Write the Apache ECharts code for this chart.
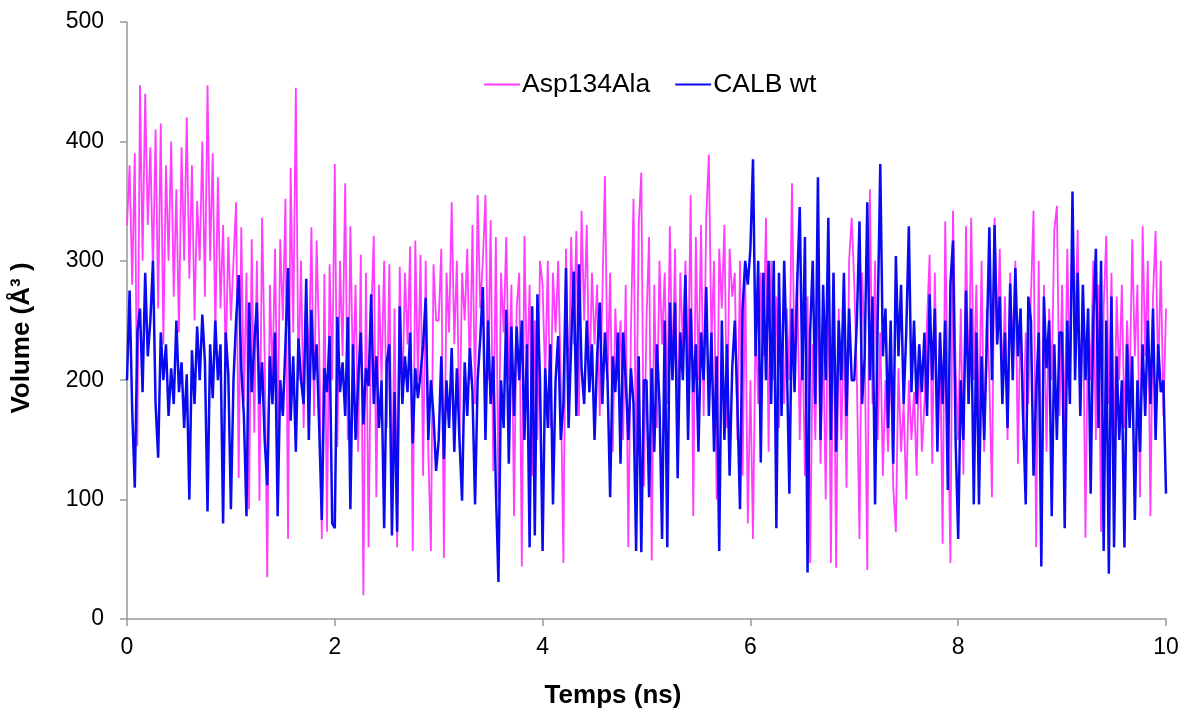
<!DOCTYPE html>
<html>
<head>
<meta charset="utf-8">
<script src="https://cdn.jsdelivr.net/npm/echarts@6/dist/echarts.min.js"></script>
<style>
  html, body { margin: 0; padding: 0; background: #fff; }
  #graph { width: 1183px; height: 712px; }
</style>
</head>
<body>
<div id="graph"></div>
<script>
// sampling step of the trajectory (ns)
var timeStep = 0.025;
var xTicks = [0, 2, 4, 6, 8, 10];
var yTicks = [0, 100, 200, 300, 400, 500];
var seriesNames = ['Asp134Ala', 'CALB wt'];

// Volume (Å3), one value every 0.025 ns
var asp134Ala = [
  330,380,280,390,145,447,300,440,330,395, 290,410,260,415,230,380,300,400,270,360,
  240,395,300,420,285,380,250,350,300,400, 270,447,300,390,240,370,260,330,215,320,
  250,300,349,118,328,182,290,92,318,156, 300,99,336,220,35,280,200,310,150,318,
  250,352,67,378,240,445,200,300,160,270, 210,328,170,317,230,67,289,73,297,200,
  381,144,300,220,365,150,329,200,280,140, 305,20,290,60,250,321,102,280,200,300,
  160,297,89,260,60,295,180,290,230,312, 57,317,200,305,120,300,140,57,297,250,
  250,310,51,290,240,349,230,300,150,290, 250,310,200,330,180,355,260,300,355,200,
  334,124,320,100,290,240,320,200,280,86, 260,290,44,321,200,280,120,250,150,300,
  280,200,300,160,290,240,300,200,47,310, 180,320,230,325,170,342,250,330,190,290,
  230,280,170,270,371,200,290,140,260,200, 250,150,280,60,240,352,120,330,374,111,
  250,320,49,280,160,300,230,290,180,329, 200,310,150,290,230,300,200,355,86,320,
  200,330,170,337,389,230,300,100,310,260, 330,160,310,270,290,150,300,120,290,80,
  200,67,250,180,290,220,336,140,300,200, 270,160,230,180,260,200,365,210,290,150,
  250,120,270,47,230,150,290,130,240,100, 300,47,290,43,260,150,250,110,300,336,
  280,200,67,290,230,41,360,180,300,150, 240,120,200,140,220,110,73,210,140,180,
  100,200,150,190,120,230,140,180,250,305, 130,290,160,240,63,333,180,47,342,210,
  150,260,121,329,180,336,200,280,160,300, 140,260,200,102,336,230,310,190,270,150,
  290,220,300,130,260,150,240,180,270,342, 60,300,51,280,140,260,200,326,346,170,
  280,150,310,200,330,240,326,170,280,68, 260,200,300,150,280,73,260,321,180,290,
  140,270,200,280,160,250,190,318,220,280, 102,329,220,300,86,270,325,200,300,170,
  260
];

var calbWt = [
  200,275,175,110,240,260,190,290,220,250, 300,180,135,240,200,230,170,210,180,250,
  190,215,160,205,100,225,180,245,200,255, 215,90,230,185,250,200,230,80,240,205,
  92,200,250,288,210,170,86,265,190,230, 265,180,215,150,112,220,180,240,86,200,
  170,230,294,166,220,140,235,200,180,285, 150,259,200,230,160,83,210,190,237,80,
  76,253,190,215,170,253,92,230,150,200, 240,163,210,195,272,180,220,160,200,76,
  215,230,70,190,73,262,180,220,190,240, 147,210,185,205,230,269,150,200,170,124,
  150,220,134,200,160,227,140,210,150,99, 215,170,227,190,96,200,235,278,150,250,
  180,220,110,31,200,160,259,130,245,170, 245,200,250,150,230,60,262,70,272,200,
  57,210,160,230,96,200,237,150,180,294, 160,230,291,170,297,210,180,250,190,230,
  150,220,265,180,240,200,102,220,190,240, 130,240,200,150,210,180,57,220,56,200,
  200,102,210,140,230,180,67,250,60,265, 200,265,118,240,200,288,150,260,190,230,
  140,240,200,278,170,240,140,220,57,250, 150,230,120,210,250,180,92,260,300,280,
  310,385,220,300,131,290,200,300,180,300, 76,290,170,300,220,105,260,190,280,345,
  200,320,39,240,300,180,370,150,280,200, 336,150,290,140,250,200,290,170,260,200,
  200,250,333,180,220,349,200,270,96,250, 381,220,260,160,250,130,304,220,280,180,
  240,329,190,250,180,230,190,240,170,272, 200,260,140,240,180,250,108,280,317,150,
  67,200,150,275,180,260,96,240,96,220, 150,230,328,200,330,230,270,180,240,160,
  281,200,294,220,260,170,96,270,250,120, 190,240,44,270,210,250,86,230,150,240,
  240,76,250,180,358,200,290,170,280,200, 260,105,250,310,160,300,57,250,38,270,
  60,220,150,200,60,230,160,220,83,200, 140,230,170,250,180,260,150,230,190,200,
  105
];

function toPairs(values) {
  return values.map(function (v, i) {
    return [+(i * timeStep).toFixed(3), v];
  });
}

var chartDom = document.getElementById('graph');
var myChart = echarts.init(chartDom);
var option;

var font = 'Arial, "Liberation Sans", sans-serif';

option = {
  animation: false,
  backgroundColor: '#ffffff',
  grid: {
    left: 127,
    right: 17,
    top: 22,
    bottom: 93
  },
  legend: {
    data: seriesNames,
    left: 479,
    top: 66,
    icon: 'rect',
    itemWidth: 36,
    itemHeight: 2,
    itemGap: 25,
    textStyle: {
      fontFamily: font,
      fontSize: 26.5,
      color: '#000',
      padding: [0, 0, 0, -3]
    }
  },
  xAxis: {
    type: 'value',
    min: xTicks[0],
    max: xTicks[xTicks.length - 1],
    interval: 2,
    axisLine: { show: true, lineStyle: { color: '#999', width: 1.5 } },
    axisTick: { show: true, length: 7, lineStyle: { color: '#999', width: 1.5 } },
    splitLine: { show: false },
    axisLabel: {
      margin: 17,
      fontFamily: font,
      fontSize: 23,
      color: '#000'
    }
  },
  yAxis: {
    type: 'value',
    min: yTicks[0],
    max: yTicks[yTicks.length - 1],
    interval: 100,
    axisLine: { show: true, lineStyle: { color: '#999', width: 1.5 } },
    axisTick: { show: true, length: 7, lineStyle: { color: '#999', width: 1.5 } },
    splitLine: { show: false },
    axisLabel: {
      margin: 23,
      fontFamily: font,
      fontSize: 23,
      color: '#000'
    }
  },
  graphic: [
    {
      type: 'text',
      x: 613,
      y: 696,
      style: {
        text: 'Temps (ns)',
        font: 'bold 26px ' + font,
        fill: '#000',
        align: 'center',
        verticalAlign: 'middle'
      }
    },
    {
      type: 'text',
      x: 22,
      y: 338,
      rotation: Math.PI / 2,
      style: {
        text: 'Volume (Å³ )',
        font: 'bold 26px ' + font,
        fill: '#000',
        align: 'center',
        verticalAlign: 'middle'
      }
    }
  ],
  series: [
    {
      name: seriesNames[0],
      type: 'line',
      showSymbol: false,
      symbol: 'none',
      data: toPairs(asp134Ala),
      lineStyle: { color: '#ff3cff', width: 1.8 },
      itemStyle: { color: '#ff3cff' }
    },
    {
      name: seriesNames[1],
      type: 'line',
      showSymbol: false,
      symbol: 'none',
      data: toPairs(calbWt),
      lineStyle: { color: '#0a0af0', width: 2.5 },
      itemStyle: { color: '#0a0af0' }
    }
  ]
};

option && myChart.setOption(option);
</script>
</body>
</html>
